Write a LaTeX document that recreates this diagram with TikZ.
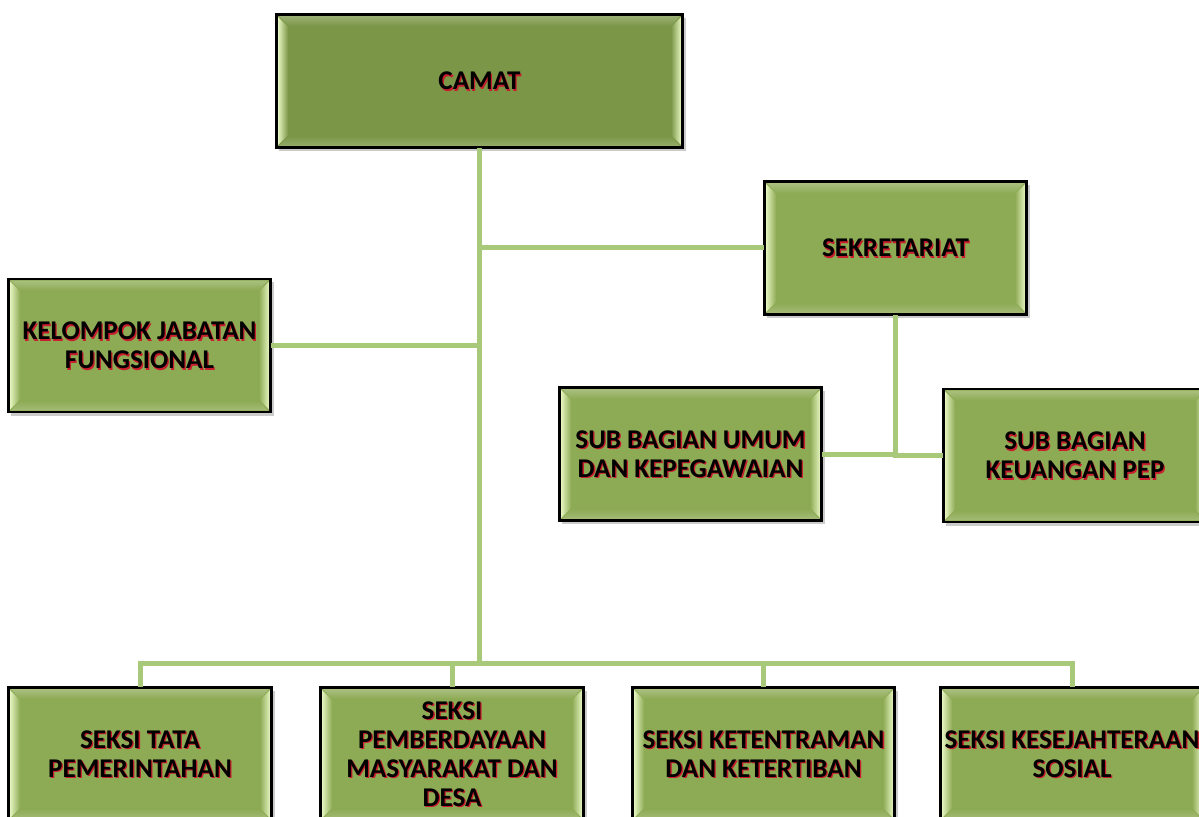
\documentclass[tikz,border=0pt]{standalone}
\usepackage{fontspec}
\setmainfont{Carlito}
\usepackage{tikz}
\usetikzlibrary{calc}

\definecolor{boxgreen}{RGB}{141,170,84}
\definecolor{topgreen}{RGB}{122,150,70}
\definecolor{bevellight}{RGB}{228,243,190}
\definecolor{linkgreen}{RGB}{169,201,122}
\definecolor{textred}{RGB}{200,30,45}

\tikzset{
  unit/.style={draw=black,line width=1pt,minimum height=132*0.02cm,inner sep=0pt},
  unittext/.style={font=\fontsize{15.4}{16.5}\selectfont\bfseries,align=center,text=black},
  link/.style={draw=linkgreen,line width=5*0.02cm}
}

\newcommand{\unitbox}[6][boxgreen]{%
  \fill[black!45,opacity=0.45] (#3-#5/2+2,#4-63) rectangle (#3+#5/2+4,#4+70);
  \node[unit,fill=#1,minimum width=#5*0.02cm] (#2) at (#3,#4) {};
  \shade[left color=bevellight,right color=#1] ([shift={(2,3)}]#2.north west)--([shift={(12,13)}]#2.north west)--([shift={(12,-13)}]#2.south west)--([shift={(2,-3)}]#2.south west)--cycle;
  \shade[left color=#1,right color=bevellight] ([shift={(-2,3)}]#2.north east)--([shift={(-12,13)}]#2.north east)--([shift={(-12,-13)}]#2.south east)--([shift={(-2,-3)}]#2.south east)--cycle;
  \shade[top color=#1!75!white,bottom color=#1] ([shift={(3,2)}]#2.north west)--([shift={(-3,2)}]#2.north east)--([shift={(-12,12)}]#2.north east)--([shift={(12,12)}]#2.north west)--cycle;
  \shade[top color=#1,bottom color=#1!80!white] ([shift={(3,-2)}]#2.south west)--([shift={(-3,-2)}]#2.south east)--([shift={(-12,-12)}]#2.south east)--([shift={(12,-12)}]#2.south west)--cycle;
  \draw[line width=1pt] (#2.north west) rectangle (#2.south east);
  \node[unittext,text=textred] at ([shift={(1.3,1.3)}]#2.center) {#6};
  \node[unittext] at (#2.center) {#6};
}

\begin{document}
\begin{tikzpicture}[x=0.02cm,y=-0.02cm]
\useasboundingbox (0,0) rectangle (1199,817);
\clip (0,0) rectangle (1199,817);

\unitbox[topgreen]{camat}{479.5}{81}{405}{CAMAT}
\unitbox{sek}{895.5}{248}{261}{SEKRETARIAT}
\unitbox{kel}{139.5}{345.5}{261}{KELOMPOK JABATAN\\FUNGSIONAL}
\unitbox{umum}{690.5}{454}{261}{SUB BAGIAN UMUM\\DAN KEPEGAWAIAN}
\unitbox{keu}{1075}{455.5}{262}{SUB BAGIAN\\KEUANGAN PEP}

\unitbox{tata}{140}{754}{262}{SEKSI TATA\\PEMERINTAHAN}
\unitbox{pemb}{452}{754}{262}{SEKSI\\PEMBERDAYAAN\\MASYARAKAT DAN\\DESA}
\unitbox{ket}{763.5}{754}{261}{SEKSI KETENTRAMAN\\DAN KETERTIBAN}
\unitbox{kesej}{1072}{754}{262}{SEKSI KESEJAHTERAAN\\SOSIAL}

\coordinate (bus) at (479.5,663);
\draw[link] (camat.south)--(bus);
\draw[link] (camat.south |- sek.west)--(sek.west);
\draw[link] (kel.east)--(kel.east -| camat.south);
\draw[link] (sek.south) |- (umum.east);
\draw[link] (sek.south) |- (keu.west);
\draw[link] (tata.north) |- (bus) -| (kesej.north);
\draw[link] (pemb.north)--(pemb.north |- bus);
\draw[link] (ket.north)--(ket.north |- bus);
\end{tikzpicture}
\end{document}
